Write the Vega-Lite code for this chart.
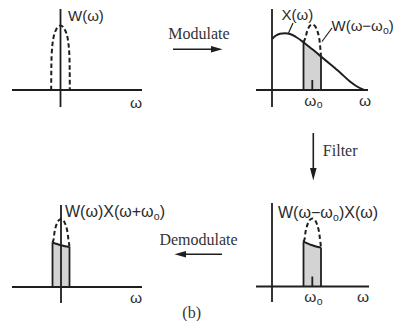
{
  "$schema": "https://vega.github.io/schema/vega-lite/v6.json",
  "width": 408,
  "height": 321,
  "padding": 0,
  "autosize": {"type": "fit", "contains": "padding"},
  "background": "white",
  "config": {"view": {"stroke": null}},
  "datasets": {
    "axes": [
      {"x": 12, "y": 90, "x2": 142, "y2": 90},
      {"x": 60.5, "y": 9, "x2": 60.5, "y2": 107},
      {"x": 256, "y": 90, "x2": 368, "y2": 90},
      {"x": 272, "y": 9, "x2": 272, "y2": 107},
      {"x": 256, "y": 286.5, "x2": 369, "y2": 286.5},
      {"x": 272, "y": 203, "x2": 272, "y2": 302},
      {"x": 12, "y": 287, "x2": 142, "y2": 287},
      {"x": 61, "y": 205, "x2": 61, "y2": 303}
    ],
    "edges": [
      {"x": 303.5, "y": 90, "x2": 303.5, "y2": 42.3},
      {"x": 321, "y": 90, "x2": 321, "y2": 56.5},
      {"x": 312.3, "y": 80, "x2": 312.3, "y2": 90},
      {"x": 303.5, "y": 286.5, "x2": 303.5, "y2": 241.5},
      {"x": 321, "y": 286.5, "x2": 321, "y2": 247.5},
      {"x": 312.3, "y": 276.5, "x2": 312.3, "y2": 286.5},
      {"x": 52.5, "y": 287, "x2": 52.5, "y2": 242.5},
      {"x": 69.5, "y": 287, "x2": 69.5, "y2": 247}
    ],
    "leaders": [
      {"x": 293, "y": 23, "x2": 288.5, "y2": 33},
      {"x": 332, "y": 28, "x2": 322, "y2": 41.5}
    ],
    "shade": [
      {"id": "tr", "x": 303.5, "y": 42.3, "y2": 90},
      {"id": "tr", "x": 310, "y": 47.5, "y2": 90},
      {"id": "tr", "x": 316, "y": 52.3, "y2": 90},
      {"id": "tr", "x": 321, "y": 56.5, "y2": 90},
      {"id": "br", "x": 303.5, "y": 241.5, "y2": 286.5},
      {"id": "br", "x": 308, "y": 243.6, "y2": 286.5},
      {"id": "br", "x": 312.3, "y": 245.3, "y2": 286.5},
      {"id": "br", "x": 316, "y": 246.5, "y2": 286.5},
      {"id": "br", "x": 321, "y": 247.5, "y2": 286.5},
      {"id": "bl", "x": 52.5, "y": 242.5, "y2": 287},
      {"id": "bl", "x": 57, "y": 244, "y2": 287},
      {"id": "bl", "x": 61, "y": 245.2, "y2": 287},
      {"id": "bl", "x": 65, "y": 246.2, "y2": 287},
      {"id": "bl", "x": 69.5, "y": 247, "y2": 287}
    ],
    "curves": [
      {"id": "x", "x": 272, "y": 39},
      {"id": "x", "x": 276, "y": 35.5},
      {"id": "x", "x": 280, "y": 33.8},
      {"id": "x", "x": 285, "y": 33.2},
      {"id": "x", "x": 290, "y": 34},
      {"id": "x", "x": 296, "y": 37},
      {"id": "x", "x": 303.5, "y": 42.3},
      {"id": "x", "x": 310, "y": 47.5},
      {"id": "x", "x": 316, "y": 52.3},
      {"id": "x", "x": 321, "y": 56.5},
      {"id": "x", "x": 330, "y": 64},
      {"id": "x", "x": 340, "y": 72.5},
      {"id": "x", "x": 350, "y": 81.5},
      {"id": "x", "x": 357, "y": 86.5},
      {"id": "x", "x": 364, "y": 90},
      {"id": "br", "x": 303.5, "y": 241.5},
      {"id": "br", "x": 308, "y": 243.6},
      {"id": "br", "x": 312.3, "y": 245.3},
      {"id": "br", "x": 316, "y": 246.5},
      {"id": "br", "x": 321, "y": 247.5},
      {"id": "bl", "x": 52.5, "y": 242.5},
      {"id": "bl", "x": 57, "y": 244},
      {"id": "bl", "x": 61, "y": 245.2},
      {"id": "bl", "x": 65, "y": 246.2},
      {"id": "bl", "x": 69.5, "y": 247}
    ],
    "arches": [
      {"id": "tl", "i": 0, "x": 51.2, "y": 90},
      {"id": "tl", "i": 1, "x": 51.3, "y": 70.65},
      {"id": "tl", "i": 2, "x": 51.66, "y": 54.5},
      {"id": "tl", "i": 3, "x": 52.4, "y": 44.85},
      {"id": "tl", "i": 4, "x": 53.34, "y": 38.4},
      {"id": "tl", "i": 5, "x": 54.64, "y": 33.2},
      {"id": "tl", "i": 6, "x": 56.22, "y": 29.4},
      {"id": "tl", "i": 7, "x": 57.99, "y": 26.8},
      {"id": "tl", "i": 8, "x": 60.5, "y": 25.5},
      {"id": "tl", "i": 9, "x": 63.01, "y": 26.8},
      {"id": "tl", "i": 10, "x": 64.78, "y": 29.4},
      {"id": "tl", "i": 11, "x": 66.36, "y": 33.2},
      {"id": "tl", "i": 12, "x": 67.66, "y": 38.4},
      {"id": "tl", "i": 13, "x": 68.6, "y": 44.85},
      {"id": "tl", "i": 14, "x": 69.34, "y": 54.5},
      {"id": "tl", "i": 15, "x": 69.7, "y": 70.65},
      {"id": "tl", "i": 16, "x": 69.8, "y": 90},
      {"id": "tr", "i": 0, "x": 303.5, "y": 42.3},
      {"id": "tr", "i": 1, "x": 305.5, "y": 37.6},
      {"id": "tr", "i": 2, "x": 306.8, "y": 32.4},
      {"id": "tr", "i": 3, "x": 308.25, "y": 28.4},
      {"id": "tr", "i": 4, "x": 309.9, "y": 25.8},
      {"id": "tr", "i": 5, "x": 312.3, "y": 24.5},
      {"id": "tr", "i": 6, "x": 314.7, "y": 25.8},
      {"id": "tr", "i": 7, "x": 316.35, "y": 28.4},
      {"id": "tr", "i": 8, "x": 317.8, "y": 32.4},
      {"id": "tr", "i": 9, "x": 319.1, "y": 37.6},
      {"id": "tr", "i": 10, "x": 319.96, "y": 44.15},
      {"id": "tr", "i": 11, "x": 320.5, "y": 50.7},
      {"id": "tr", "i": 12, "x": 321, "y": 56.5},
      {"id": "br", "i": 0, "x": 303.5, "y": 241.5},
      {"id": "br", "i": 1, "x": 304.6, "y": 238.9},
      {"id": "br", "i": 2, "x": 305.5, "y": 232.1},
      {"id": "br", "i": 3, "x": 306.8, "y": 226.7},
      {"id": "br", "i": 4, "x": 308.25, "y": 222.6},
      {"id": "br", "i": 5, "x": 309.9, "y": 219.9},
      {"id": "br", "i": 6, "x": 312.3, "y": 218.5},
      {"id": "br", "i": 7, "x": 314.7, "y": 219.9},
      {"id": "br", "i": 8, "x": 316.35, "y": 222.6},
      {"id": "br", "i": 9, "x": 317.8, "y": 226.7},
      {"id": "br", "i": 10, "x": 319.1, "y": 232.1},
      {"id": "br", "i": 11, "x": 319.96, "y": 238.9},
      {"id": "br", "i": 12, "x": 320.5, "y": 243},
      {"id": "br", "i": 13, "x": 321, "y": 247.5},
      {"id": "bl", "i": 0, "x": 52.5, "y": 242.5},
      {"id": "bl", "i": 1, "x": 53.6, "y": 239.4},
      {"id": "bl", "i": 2, "x": 54.45, "y": 232.6},
      {"id": "bl", "i": 3, "x": 55.6, "y": 227.2},
      {"id": "bl", "i": 4, "x": 57.1, "y": 223.1},
      {"id": "bl", "i": 5, "x": 58.7, "y": 220.4},
      {"id": "bl", "i": 6, "x": 61, "y": 219},
      {"id": "bl", "i": 7, "x": 63.3, "y": 220.4},
      {"id": "bl", "i": 8, "x": 64.9, "y": 223.1},
      {"id": "bl", "i": 9, "x": 66.4, "y": 227.2},
      {"id": "bl", "i": 10, "x": 67.55, "y": 232.6},
      {"id": "bl", "i": 11, "x": 68.4, "y": 239.4},
      {"id": "bl", "i": 12, "x": 69, "y": 243},
      {"id": "bl", "i": 13, "x": 69.5, "y": 247}
    ],
    "shafts": [
      {"x": 173, "y": 49.3, "x2": 213, "y2": 49.3},
      {"x": 184, "y": 254.3, "x2": 222, "y2": 254.3},
      {"x": 313.3, "y": 133, "x2": 313.3, "y2": 170}
    ],
    "headsH": [
      {"id": "mod", "x": 211, "y": 46, "y2": 52.6},
      {"id": "mod", "x": 222.5, "y": 49.3, "y2": 49.3},
      {"id": "demod", "x": 174.5, "y": 254.3, "y2": 254.3},
      {"id": "demod", "x": 186, "y": 251, "y2": 257.6}
    ],
    "headsV": [
      {"y": 168, "x": 310, "x2": 316.6},
      {"y": 180.5, "x": 313.3, "x2": 313.3}
    ],
    "namesTop": [
      {"t": "W(ω)", "x": 68, "y": 15.5},
      {"t": "X(ω)", "x": 281.5, "y": 15},
      {"t": "W(ω−ω", "x": 331.5, "y": 26},
      {"t": ")", "x": 388.8, "y": 26}
    ],
    "namesBottom": [
      {"t": "W(ω−ω", "x": 278, "y": 213},
      {"t": ")X(ω)", "x": 338.9, "y": 213},
      {"t": "W(ω)X(ω+ω", "x": 65, "y": 212},
      {"t": ")", "x": 159.7, "y": 212}
    ],
    "subscripts": [
      {"t": "o", "x": 383, "y": 30.5},
      {"t": "o", "x": 332.9, "y": 217.5},
      {"t": "o", "x": 153.7, "y": 216.5},
      {"t": "o", "x": 316.8, "y": 105},
      {"t": "o", "x": 316.8, "y": 301.5}
    ],
    "ticks": [
      {"t": "ω", "x": 136, "y": 103},
      {"t": "ω", "x": 310.3, "y": 100.5},
      {"t": "ω", "x": 365, "y": 100.5},
      {"t": "ω", "x": 310.3, "y": 297},
      {"t": "ω", "x": 363, "y": 297},
      {"t": "ω", "x": 136, "y": 298}
    ],
    "words": [
      {"t": "Modulate", "x": 199, "y": 33.5},
      {"t": "Filter", "x": 340.2, "y": 151},
      {"t": "Demodulate", "x": 198.5, "y": 239.5},
      {"t": "(b)", "x": 191.7, "y": 313}
    ]
  },
  "encoding": {
    "x": {"field": "x", "type": "quantitative", "scale": {"domain": [0, 408], "nice": false, "zero": false}, "axis": null},
    "y": {"field": "y", "type": "quantitative", "scale": {"domain": [0, 321], "nice": false, "zero": false, "reverse": true}, "axis": null}
  },
  "layer": [
    {
      "data": {"name": "shade"},
      "mark": {"type": "area", "color": "#d3d3d3", "interpolate": "monotone"},
      "encoding": {"y2": {"field": "y2"}, "detail": {"field": "id"}}
    },
    {
      "data": {"name": "axes"},
      "mark": {"type": "rule", "color": "#1e1e1e", "strokeWidth": 1.8},
      "encoding": {"x2": {"field": "x2"}, "y2": {"field": "y2"}}
    },
    {
      "data": {"name": "edges"},
      "mark": {"type": "rule", "color": "#1e1e1e", "strokeWidth": 1.8},
      "encoding": {"x2": {"field": "x2"}, "y2": {"field": "y2"}}
    },
    {
      "data": {"name": "leaders"},
      "mark": {"type": "rule", "color": "#1e1e1e", "strokeWidth": 1.2},
      "encoding": {"x2": {"field": "x2"}, "y2": {"field": "y2"}}
    },
    {
      "data": {"name": "curves"},
      "mark": {"type": "line", "color": "#1e1e1e", "strokeWidth": 2, "interpolate": "monotone"},
      "encoding": {"detail": {"field": "id"}}
    },
    {
      "data": {"name": "arches"},
      "mark": {"type": "line", "color": "#1e1e1e", "strokeWidth": 2, "strokeDash": [4.5, 2.8], "interpolate": "catmull-rom"},
      "encoding": {"detail": {"field": "id"}, "order": {"field": "i", "type": "quantitative"}}
    },
    {
      "data": {"name": "shafts"},
      "mark": {"type": "rule", "color": "#1e1e1e", "strokeWidth": 1.6},
      "encoding": {"x2": {"field": "x2"}, "y2": {"field": "y2"}}
    },
    {
      "data": {"name": "headsH"},
      "mark": {"type": "area", "color": "#1e1e1e", "orient": "vertical"},
      "encoding": {"y2": {"field": "y2"}, "detail": {"field": "id"}}
    },
    {
      "data": {"name": "headsV"},
      "mark": {"type": "area", "color": "#1e1e1e", "orient": "horizontal"},
      "encoding": {"x2": {"field": "x2"}}
    },
    {
      "data": {"name": "namesTop"},
      "mark": {"type": "text", "align": "left", "baseline": "middle", "font": "Liberation Sans", "fontSize": 15, "color": "#2a2a2a"},
      "encoding": {"text": {"field": "t"}}
    },
    {
      "data": {"name": "namesBottom"},
      "mark": {"type": "text", "align": "left", "baseline": "middle", "font": "Liberation Sans", "fontSize": 16, "color": "#2a2a2a"},
      "encoding": {"text": {"field": "t"}}
    },
    {
      "data": {"name": "subscripts"},
      "mark": {"type": "text", "align": "left", "baseline": "middle", "font": "Liberation Sans", "fontSize": 10.5, "color": "#2a2a2a"},
      "encoding": {"text": {"field": "t"}}
    },
    {
      "data": {"name": "ticks"},
      "mark": {"type": "text", "align": "center", "baseline": "middle", "font": "Liberation Sans", "fontSize": 15.5, "color": "#2a2a2a"},
      "encoding": {"text": {"field": "t"}}
    },
    {
      "data": {"name": "words"},
      "mark": {"type": "text", "align": "center", "baseline": "middle", "font": "Liberation Serif", "fontSize": 16, "color": "#333333"},
      "encoding": {"text": {"field": "t"}}
    }
  ]
}
